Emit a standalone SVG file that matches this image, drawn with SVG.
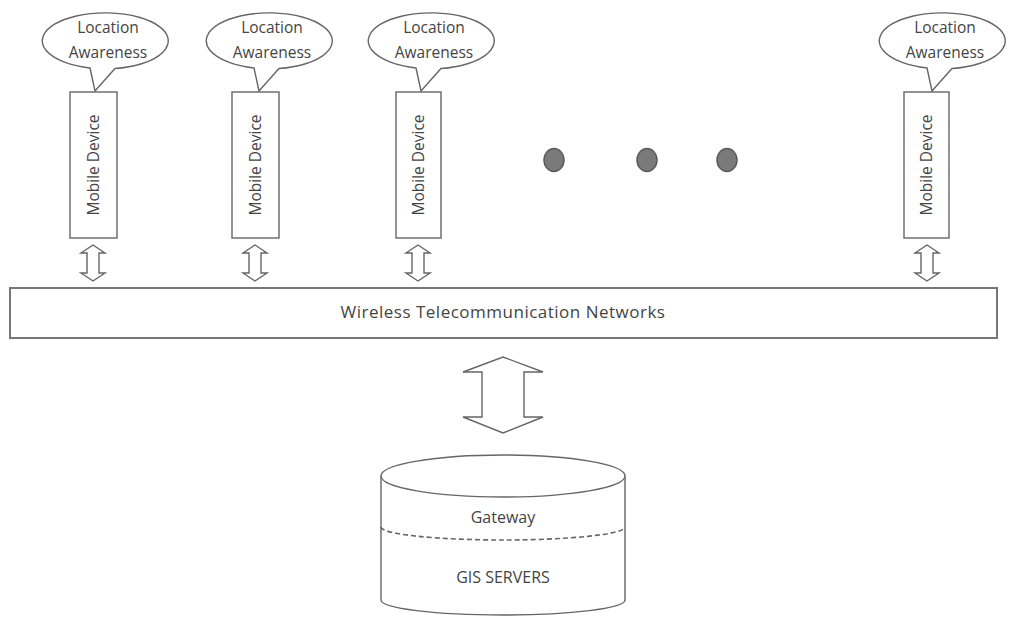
<svg xmlns="http://www.w3.org/2000/svg" width="1012" height="617" viewBox="0 0 1012 617">
<style>
.ln{fill:#fff;stroke:#666;stroke-width:1.4}
.t{font-family:"Open Sans","Liberation Sans",sans-serif;font-size:15.5px;fill:#444;text-anchor:middle}
.dot{fill:#7a7a7a;stroke:#5a5a5a;stroke-width:1.5}
</style>
<defs>
<path id="callout" d="M-18,27 A63,28 0 1 1 7,27.5 L-13,50 Z"/>
<path id="sarrow" d="M0,0 L12,8 L6,8 L6,28 L12,28 L0,36 L-12,28 L-6,28 L-6,8 L-12,8 Z"/>
</defs>
<rect width="1012" height="617" fill="#fff"/>

<g id="node-loc1">
<use href="#callout" x="108" y="41" class="ln"/>
<text class="t" x="108" y="33">Location</text><text class="t" x="108" y="58">Awareness</text>
</g>
<g id="node-loc2">
<use href="#callout" x="272" y="41" class="ln"/>
<text class="t" x="272" y="33">Location</text><text class="t" x="272" y="58">Awareness</text>
</g>
<g id="node-loc3">
<use href="#callout" x="434" y="41" class="ln"/>
<text class="t" x="434" y="33">Location</text><text class="t" x="434" y="58">Awareness</text>
</g>
<g id="node-loc4">
<use href="#callout" x="945" y="41" class="ln"/>
<text class="t" x="945" y="33">Location</text><text class="t" x="945" y="58">Awareness</text>
</g>

<g id="node-dev1">
<rect class="ln" x="70" y="92" width="47" height="146"/>
<text class="t" transform="translate(99,165) rotate(-90)">Mobile Device</text>
</g>
<g id="node-dev2">
<rect class="ln" x="232" y="92" width="47" height="146"/>
<text class="t" transform="translate(261,165) rotate(-90)">Mobile Device</text>
</g>
<g id="node-dev3">
<rect class="ln" x="396" y="92" width="45" height="146"/>
<text class="t" transform="translate(424,165) rotate(-90)">Mobile Device</text>
</g>
<g id="node-dev4">
<rect class="ln" x="904" y="92" width="45" height="146"/>
<text class="t" transform="translate(932,165) rotate(-90)">Mobile Device</text>
</g>

<g id="dots">
<ellipse class="dot" cx="554" cy="160" rx="10" ry="11.5"/>
<ellipse class="dot" cx="647" cy="160" rx="10" ry="11.5"/>
<ellipse class="dot" cx="727" cy="160" rx="10" ry="11.5"/>
</g>

<g id="node-network">
<rect x="10" y="288" width="987" height="50" fill="#fff" stroke="#777" stroke-width="2"/>
<text class="t" x="503" y="318" style="font-size:17px;letter-spacing:0.5px">Wireless Telecommunication Networks</text>
</g>

<g id="node-gis">
<path class="ln" d="M381,476 L381,600 A122,15 0 0 0 625,600 L625,476"/>
<ellipse class="ln" cx="503" cy="476" rx="122" ry="21"/>
<path d="M381,527 A122,13 0 0 0 625,527" fill="none" stroke="#666" stroke-width="1.6" stroke-dasharray="5,3"/>
<text class="t" x="503" y="523" style="font-size:16px">Gateway</text>
<text class="t" x="503" y="583" style="font-size:16px">GIS SERVERS</text>
</g>

<g id="connectors">
<use href="#sarrow" x="93" y="245" class="ln"/>
<use href="#sarrow" x="255" y="245" class="ln"/>
<use href="#sarrow" x="418" y="245" class="ln"/>
<use href="#sarrow" x="927" y="245" class="ln"/>
<path class="ln" d="M503,357 L543,372 L524,372 L524,417 L543,417 L503,433 L463,417 L482,417 L482,372 L463,372 Z"/>
</g>
</svg>
